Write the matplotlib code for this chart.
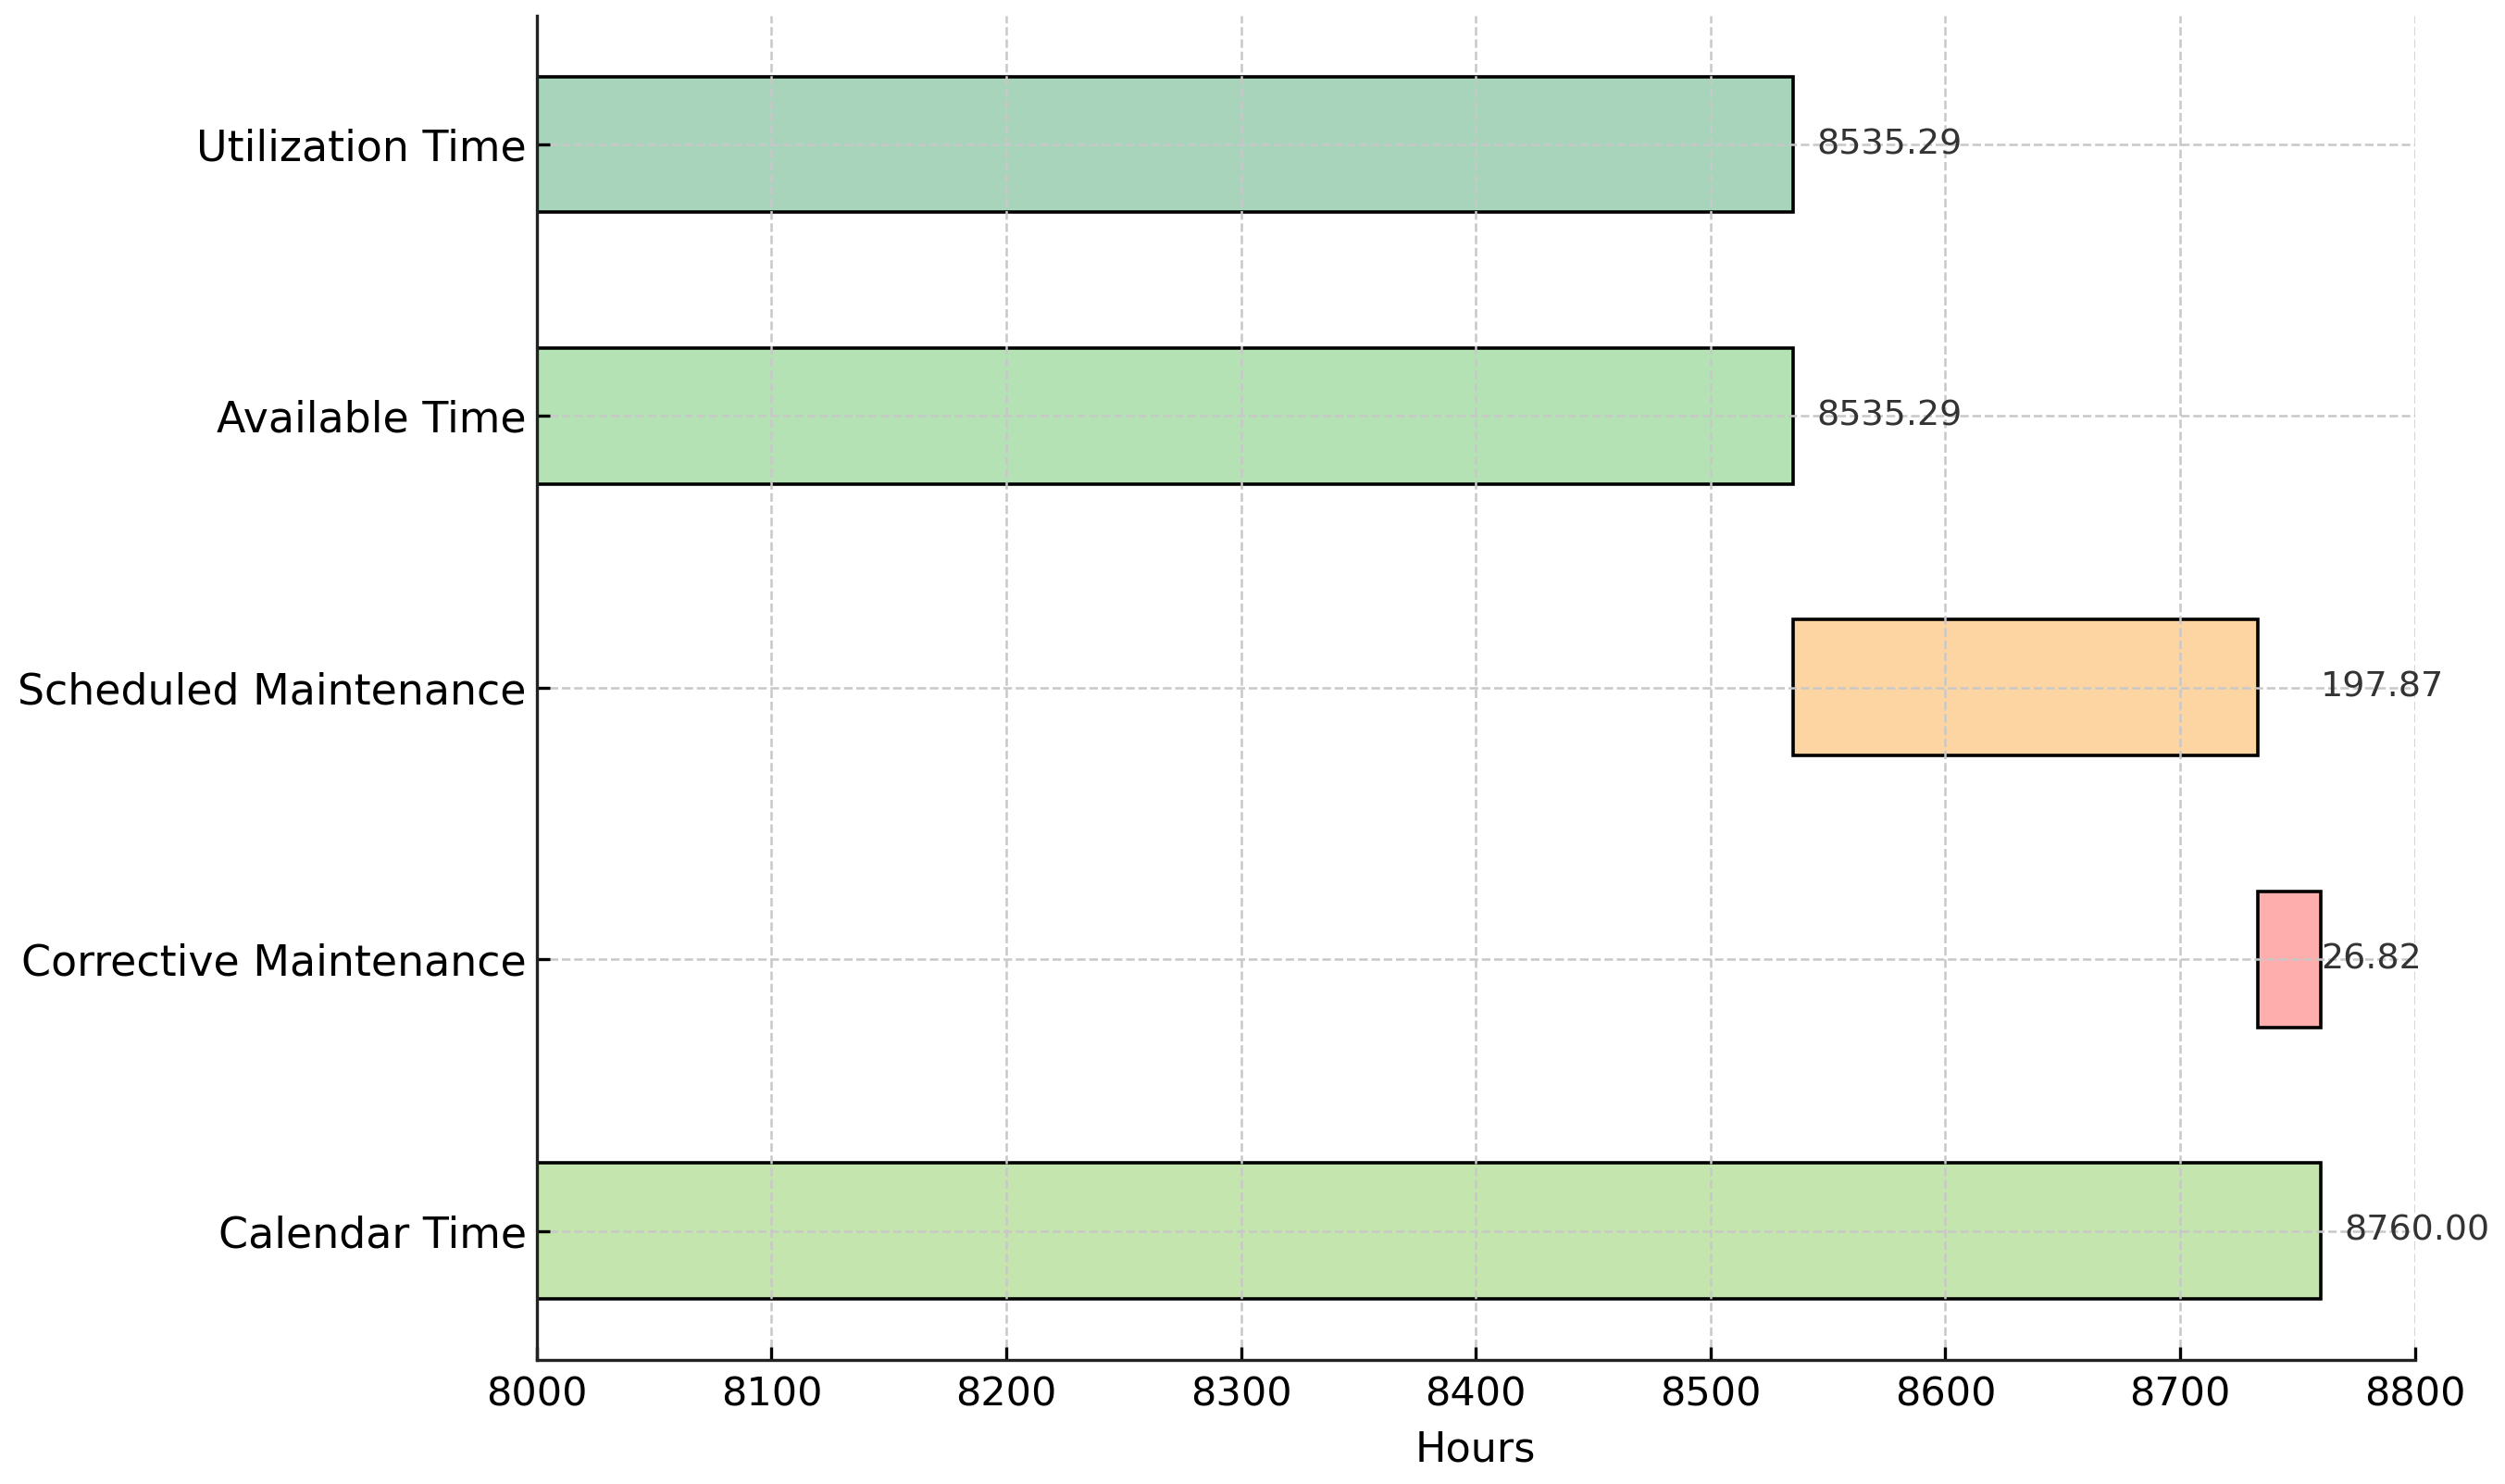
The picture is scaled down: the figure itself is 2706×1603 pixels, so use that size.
import matplotlib

matplotlib.use("Agg")

import matplotlib.pyplot as plt

# data (bottom to top)
categories = [
    "Calendar Time",
    "Corrective Maintenance",
    "Scheduled Maintenance",
    "Available Time",
    "Utilization Time",
]
starts = [8000.0, 8733.16, 8535.29, 8000.0, 8000.0]
durations = [760.00, 26.82, 197.87, 535.29, 535.29]
labels = ["8760.00", "26.82", "197.87", "8535.29", "8535.29"]
colors = ["#c5e5ae", "#ffaeae", "#fdd5a3", "#b5e2b5", "#a7d4ba"]

calendar_total = 8760.0
x_min, x_max = 8000, 8800

fig = plt.figure(figsize=(13.53, 8.015), dpi=200)
ax = fig.add_axes([0.2143, 0.0836, 0.7497, 0.906])

ax.barh(categories, durations, left=starts, height=0.5,
        color=colors, edgecolor="black", linewidth=1.3)

# value labels: whole bars just past the end, stacked segments at calendar end
for i, (s, d, lab) in enumerate(zip(starts, durations, labels)):
    end = s + d
    if s > x_min:
        x = calendar_total
    else:
        x = end + 10
    ax.text(x, i, lab, va="center", ha="left", fontsize=13.7, color="#333333")

ax.set_xlim(x_min, x_max)
ax.set_xlabel("Hours", fontsize=16, labelpad=6)
ax.grid(True, linestyle="--", color="#c8c8c8", linewidth=0.9)
ax.set_axisbelow(False)

for side in ("top", "right"):
    ax.spines[side].set_visible(False)
for side in ("left", "bottom"):
    ax.spines[side].set_linewidth(1.2)
    ax.spines[side].set_color("#222222")
    ax.spines[side].set_zorder(4)

ax.tick_params(axis="x", direction="in", length=5, width=1.2, labelsize=15.5, pad=6)
ax.tick_params(axis="y", direction="in", length=5, width=1.2, labelsize=16.5, pad=4)

fig.savefig("out.png", dpi=200)
